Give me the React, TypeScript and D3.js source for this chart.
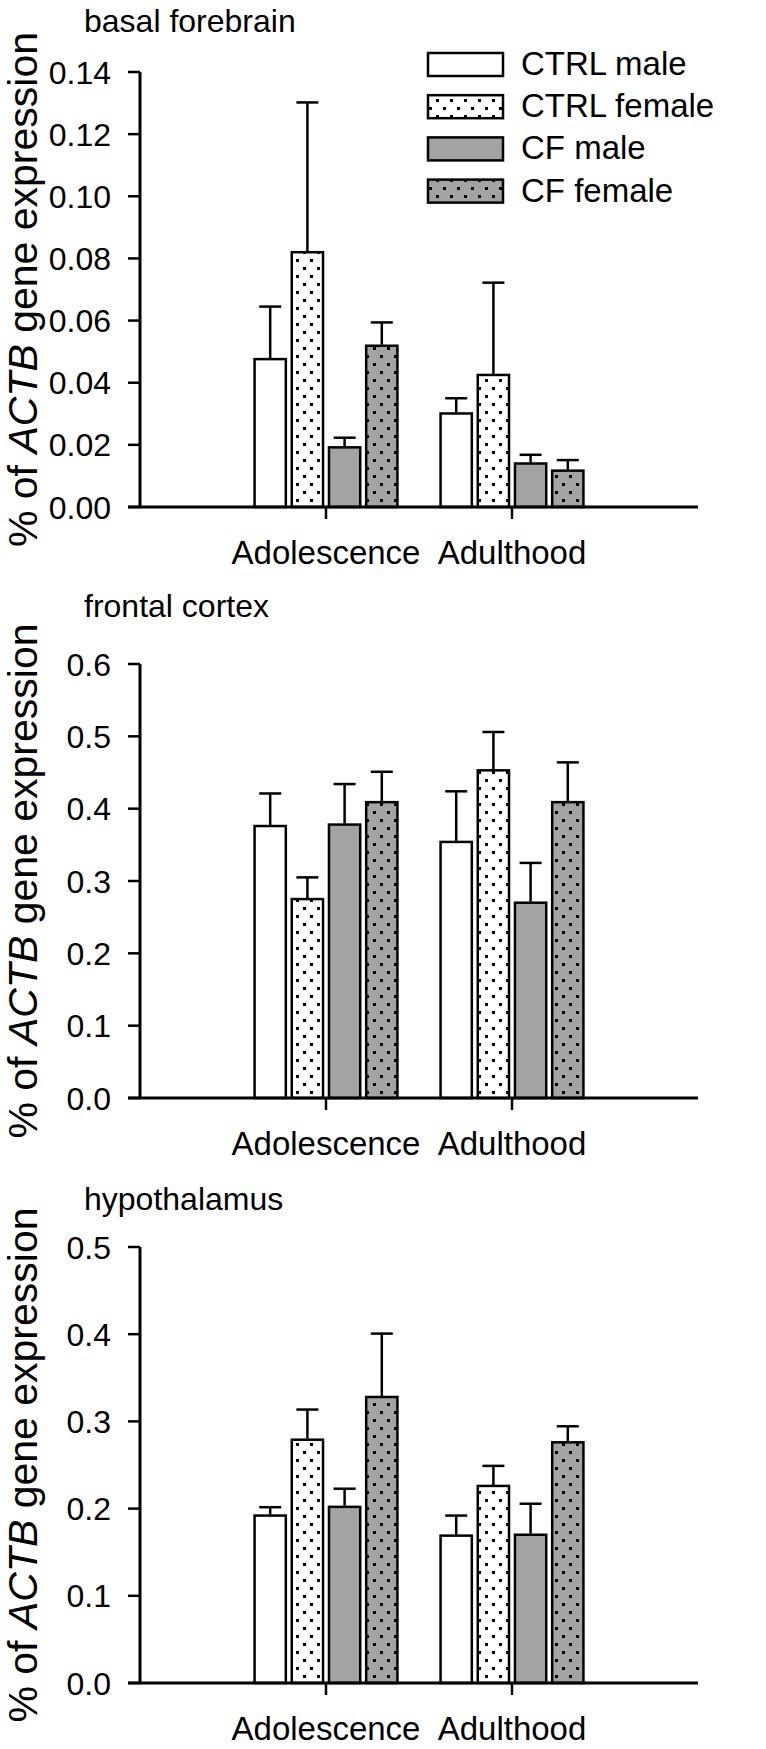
import React from "react";
import * as d3 from "d3";

const groups = ["CTRL male", "CTRL female", "CF male", "CF female"];
const periods = ["Adolescence", "Adulthood"];

// basal forebrain: [Adolescence x4, Adulthood x4]
const bfMean = [0.0476, 0.082, 0.0192, 0.0519, 0.0301, 0.0425, 0.014, 0.0117];
const bfErr = [0.0645, 0.1302, 0.0223, 0.0594, 0.035, 0.0722, 0.0168, 0.0151];
const bfTicks = [0, 0.02, 0.04, 0.06, 0.08, 0.1, 0.12, 0.14];

// frontal cortex
const fcMean = [0.376, 0.275, 0.378, 0.409, 0.354, 0.453, 0.27, 0.409];
const fcErr = [0.421, 0.305, 0.434, 0.451, 0.424, 0.506, 0.325, 0.464];
const fcTicks = [0, 0.1, 0.2, 0.3, 0.4, 0.5, 0.6];

// hypothalamus
const hyMean = [0.192, 0.279, 0.202, 0.328, 0.169, 0.226, 0.17, 0.276];
const hyErr = [0.2016, 0.3136, 0.2228, 0.4007, 0.192, 0.249, 0.2056, 0.2944];
const hyTicks = [0, 0.1, 0.2, 0.3, 0.4, 0.5];

const titles = ["basal forebrain", "frontal cortex", "hypothalamus"];

const GRAY = "#a3a3a3";
const fills = ["#ffffff", "url(#dotsWhite)", GRAY, "url(#dotsGray)"];
const FONT = "Arial, 'Liberation Sans', Helvetica, sans-serif";

const X0 = 140;
const X1 = 698;

type PanelProps = {
  title: string;
  mean: number[];
  err: number[];
  ticks: number[];
  fmt: string;
  top: number;
  bottom: number;
  titleY: number;
  legend?: boolean;
};

function Panel({ title, mean, err, ticks, fmt, top, bottom, titleY, legend }: PanelProps) {
  const y = d3.scaleLinear().domain([0, ticks[ticks.length - 1]]).range([bottom, top]);
  const x = d3.scaleLinear().domain([0, 3]).range([X0, X1]);
  const step = 0.2;
  const bw = 0.168;
  const capHalf = 11;
  const f = d3.format(fmt);
  const bars: React.ReactNode[] = [];
  const errs: React.ReactNode[] = [];
  periods.forEach((p, pi) => {
    groups.forEach((g, gi) => {
      const k = pi * 4 + gi;
      const cx = pi + 1 + (gi - 1.5) * step;
      const xl = x(cx - bw / 2);
      const xr = x(cx + bw / 2);
      const xc = x(cx);
      bars.push(
        <rect
          key={"b" + k}
          x={xl}
          y={y(mean[k])}
          width={xr - xl}
          height={y(0) - y(mean[k])}
          fill={fills[gi]}
          stroke="#000"
          strokeWidth={2.5}
        />
      );
      errs.push(
        <g key={"e" + k} stroke="#000" strokeWidth={2.5}>
          <line x1={xc} x2={xc} y1={y(mean[k]) - 1} y2={y(err[k])} />
          <line x1={xc - capHalf} x2={xc + capHalf} y1={y(err[k])} y2={y(err[k])} />
        </g>
      );
    });
  });
  const midY = (top + bottom) / 2;
  return (
    <g fontFamily={FONT}>
      <text x={84} y={titleY} fontSize={32}>
        {title}
      </text>
      <text
        transform={`translate(37,${midY}) rotate(-90)`}
        textAnchor="middle"
        fontSize={41}
      >
        % of <tspan fontStyle="italic">ACTB</tspan> gene expression
      </text>
      {bars}
      {errs}
      {/* y axis */}
      <line x1={X0} x2={X0} y1={top} y2={bottom} stroke="#000" strokeWidth={3} />
      {ticks.map((t) => (
        <g key={t}>
          <line x1={X0 - 12} x2={X0} y1={y(t)} y2={y(t)} stroke="#000" strokeWidth={2.5} />
          <text x={111} y={y(t)} dy="0.36em" textAnchor="end" fontSize={32}>
            {f(t)}
          </text>
        </g>
      ))}
      {/* x axis */}
      <line x1={X0 - 12} x2={X1} y1={bottom} y2={bottom} stroke="#000" strokeWidth={3} />
      {periods.map((p, pi) => (
        <g key={p}>
          <line x1={x(pi + 1)} x2={x(pi + 1)} y1={bottom} y2={bottom + 12} stroke="#000" strokeWidth={2.5} />
          <text x={x(pi + 1)} y={bottom + 57} textAnchor="middle" fontSize={33}>
            {p}
          </text>
        </g>
      ))}
      {legend &&
        groups.map((g, gi) => {
          const ry = 53 + gi * 42.2;
          return (
            <g key={g}>
              <rect x={428} y={ry} width={75} height={23} fill={fills[gi]} stroke="#000" strokeWidth={2.5} />
              <text x={521} y={ry + 22} fontSize={33}>
                {g}
              </text>
            </g>
          );
        })}
    </g>
  );
}

export default function App() {
  return (
    <svg
      width={766}
      height={1749}
      style={{ position: "absolute", left: 0, top: 0, background: "#fff" }}
    >
      <defs>
        <pattern id="dotsWhite" width={14} height={16} patternUnits="userSpaceOnUse">
          <rect width={14} height={16} fill="#fff" />
          <rect x={2} y={3} width={3} height={3} fill="#000" />
          <rect x={9} y={11} width={3} height={3} fill="#000" />
        </pattern>
        <pattern id="dotsGray" width={14} height={16} patternUnits="userSpaceOnUse">
          <rect width={14} height={16} fill={GRAY} />
          <rect x={2} y={3} width={3} height={3} fill="#000" />
          <rect x={9} y={11} width={3} height={3} fill="#000" />
        </pattern>
      </defs>
      <rect width={766} height={1749} fill="#fff" />
      <Panel title={titles[0]} mean={bfMean} err={bfErr} ticks={bfTicks} fmt=".2f" top={72} bottom={507} titleY={32} legend />
      <Panel title={titles[1]} mean={fcMean} err={fcErr} ticks={fcTicks} fmt=".1f" top={664} bottom={1098} titleY={617} />
      <Panel title={titles[2]} mean={hyMean} err={hyErr} ticks={hyTicks} fmt=".1f" top={1247} bottom={1683} titleY={1210} />
    </svg>
  );
}
